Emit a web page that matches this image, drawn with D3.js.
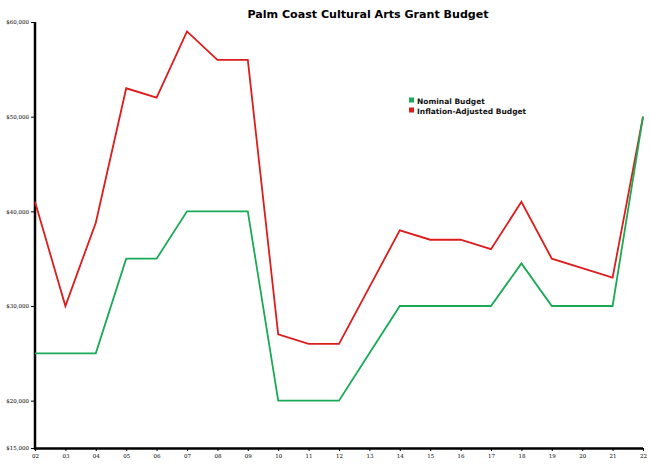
<!DOCTYPE html>
<html><head><meta charset="utf-8">
<script src="https://cdn.jsdelivr.net/npm/d3@7"></script>
<style>body{margin:0;background:#fff;} svg{display:block;}</style>
</head><body>
<script>
const years = ["02","03","04","05","06","07","08","09","10","11","12","13","14","15","16","17","18","19","20","21","22"];
const nominal = [25000,25000,25000,35000,35000,40000,40000,40000,20000,20000,20000,25000,30000,30000,30000,30000,34500,30000,30000,30000,50000];
const adjusted = [41000,30000,38800,53000,52000,59000,56000,56000,27000,26000,26000,32000,38000,37000,37000,36000,41000,35000,34000,33000,50000];
const yTicks = [15000,20000,30000,40000,50000,60000];
const seriesNames = ["Nominal Budget","Inflation-Adjusted Budget"];
const colors = ["#1aa955","#dd1c1c"];

const W=650,H=476;
const svg=d3.select("body").append("svg").attr("width",W).attr("height",H);
const x=d3.scalePoint().domain(years).range([35,643]);
const y=d3.scaleLinear().domain([15000,60000]).range([448,22]);

svg.append("text").attr("x",368).attr("y",18).attr("text-anchor","middle")
  .attr("font-family","DejaVu Sans").attr("font-weight","bold").attr("font-size",11.1)
  .text("Palm Coast Cultural Arts Grant Budget");

const yAxis=svg.append("g").attr("transform","translate(35,0)")
  .call(d3.axisLeft(y).tickValues(yTicks).tickSize(4).tickPadding(2).tickFormat(d=>"$"+d3.format(",")(d)));
yAxis.select(".domain").remove();
yAxis.selectAll("text").attr("font-family","DejaVu Serif").attr("font-size",5.5).attr("fill","#000");
yAxis.selectAll("line").attr("stroke","#000");

const xAxis=svg.append("g").attr("transform","translate(0,448)")
  .call(d3.axisBottom(x).tickSize(3).tickPadding(3));
xAxis.select(".domain").remove();
xAxis.selectAll("text").attr("font-family","DejaVu Serif").attr("font-size",5.5).attr("fill","#000");
xAxis.selectAll("line").attr("stroke","#000");

svg.append("line").attr("x1",35).attr("x2",35).attr("y1",y(60000)).attr("y2",449.5).attr("stroke","#000").attr("stroke-width",2.5);
svg.append("line").attr("x1",34).attr("x2",643).attr("y1",448.5).attr("y2",448.5).attr("stroke","#000").attr("stroke-width",2.5);

const line=d3.line().x((d,i)=>x(years[i])).y(d=>y(d));
svg.append("path").datum(adjusted).attr("d",line).attr("fill","none").attr("stroke",colors[1]).attr("stroke-width",1.8);
svg.append("path").datum(nominal).attr("d",line).attr("fill","none").attr("stroke",colors[0]).attr("stroke-width",1.8);

const leg=svg.append("g");
seriesNames.forEach((n,i)=>{
  leg.append("rect").attr("x",409).attr("y",97.5+i*10).attr("width",5).attr("height",5).attr("fill",colors[i]);
  leg.append("text").attr("x",417).attr("y",103.5+i*10).attr("font-family","DejaVu Sans").attr("font-weight","bold")
    .attr("font-size",7.5).attr("fill","#111").text(n);
});
</script>
</body></html>
